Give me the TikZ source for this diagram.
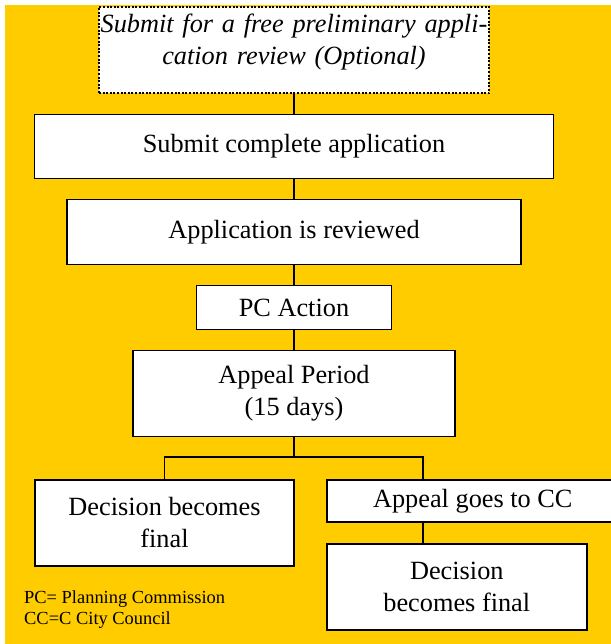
\documentclass[tikz,border=0pt]{standalone}
\usepackage{fontspec}
\setmainfont{Liberation Serif}
\usepackage{xcolor}
\usetikzlibrary{positioning}
\definecolor{permityellow}{HTML}{FFCC00}

\begin{document}
\begin{tikzpicture}[
  x=1bp, y=-1bp,
  node distance=19.4bp,
  box/.style={draw, fill=white, line width=1.6bp, align=center, font=\fontsize{26.4}{32}\selectfont, inner sep=0pt},
  optbox/.style={box, line width=2bp, dash pattern=on 2bp off 1.6bp, text width=390bp, inner ysep=7bp, font=\fontsize{26.4}{32}\selectfont\itshape},
  key/.style={align=left, font=\fontsize{18.5}{21}\selectfont, inner sep=0pt, anchor=west},
  link/.style={line width=1.4bp}]
  \useasboundingbox (0,0) rectangle (611,644);
  \fill[permityellow] (5,5) rectangle (611,644);
  \node[optbox, anchor=north] (opt) at (294,6) {Submit for a free preliminary appli-\\cation review (Optional)\rule[-22bp]{0pt}{22bp}};
  \node[box, below=of opt, minimum width=519bp, minimum height=64bp] (submit) {Submit complete application};
  \node[box, below=of submit, minimum width=454bp, minimum height=65bp] (review) {Application is reviewed};
  \node[box, below=of review, minimum width=195bp, minimum height=44bp] (pcact) {PC Action};
  \node[box, below=of pcact, minimum width=322bp, minimum height=86bp] (appeal) {Appeal Period\\(15 days)};
  \node[box, anchor=north, minimum width=259bp, minimum height=86bp] (final) at (164.5,479) {Decision becomes\\final};
  \node[box, anchor=north west, minimum width=292bp, minimum height=42bp] (cc) at (326,479) {Appeal goes to CC};
  \node[box, anchor=north west, minimum width=260bp, minimum height=86bp] (final2) at (326,543) {Decision\\becomes final};
  \node[key] (legend) at (24,610) {PC= Planning Commission\\CC=C City Council};
  \coordinate (split) at (appeal.south |- 0,457);
  \coordinate (drop) at (423,457);
  \draw[link] (opt) -- (submit); \draw[link] (submit) -- (review); \draw[link] (review) -- (pcact); \draw[link] (pcact) -- (appeal);
  \draw[link] (appeal) -- (split) -| (final);
  \draw[link] (split) -| (cc.north -| drop);
  \draw[link] (cc.south -| drop) -- (final2.north -| drop);
\end{tikzpicture}
\end{document}
